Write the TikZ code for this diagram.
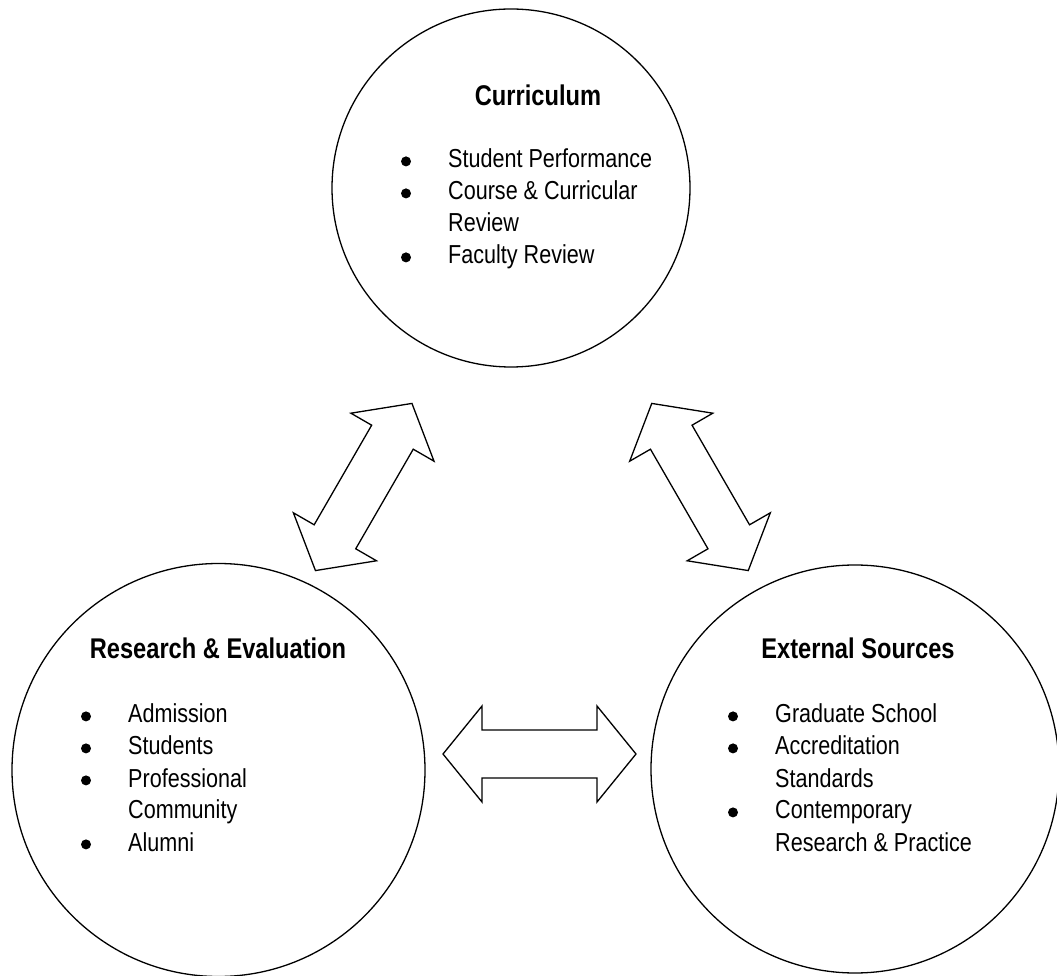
\documentclass[tikz,border=0pt]{standalone}
\usepackage{fontspec}
\setmainfont{Liberation Sans}[FakeStretch=0.83]
\begin{document}
\begin{tikzpicture}[x=1pt,y=1pt,
  ring/.style={circle, draw, line width=1.3pt, inner sep=0pt},
  heading/.style={anchor=base, inner sep=0pt, font=\fontsize{28.5}{34}\selectfont\bfseries},
  items/.style={anchor=base west, inner sep=0pt, font=\fontsize{26}{32}\selectfont},
  listdot/.style={circle, fill, inner sep=0pt, minimum size=10pt},
  blockarrow/.pic={
    \draw[line width=1.3pt, line join=miter]
      (-96.5,0) -- (-57.5,48) -- (-57.5,24) -- (57.5,24) -- (57.5,48) -- (96.5,0)
      -- (57.5,-48) -- (57.5,-24) -- (-57.5,-24) -- (-57.5,-48) -- cycle;
  }]
\useasboundingbox (0,0) rectangle (1057,975);

% the three circles
\node[ring, minimum size=358pt] (curr) at (511,787) {};
\node[ring, minimum size=413pt] (rese) at (218.5,205) {};
\node[ring, minimum size=408pt] (extr) at (855,206) {};

% double-headed block arrows between the circles
\pic[rotate=60] at (363.7,488) {blockarrow};
\pic[rotate=120] at (700,488) {blockarrow};
\pic at (539.5,221) {blockarrow};

% headings
\node[heading] (currhead) at (538,869) {Curriculum};
\node[heading] (resehead) at (218,316) {Research \& Evaluation};
\node[heading] (extrhead) at (858,316) {External Sources};

% list texts (lines 32pt apart, text 42pt right of the bullet centres)
\node[items] (currlist) at (448,807) {%
  \begin{tabular}[t]{@{}l@{}}
  Student Performance\\
  Course \& Curricular\\
  Review\\
  Faculty Review
  \end{tabular}};
\node[items] (reselist) at (128,252) {%
  \begin{tabular}[t]{@{}l@{}}
  Admission\\
  Students\\
  Professional\\
  Community\\
  Alumni
  \end{tabular}};
\node[items] (extrlist) at (775,252) {%
  \begin{tabular}[t]{@{}l@{}}
  Graduate School\\
  Accreditation\\
  Standards\\
  Contemporary\\
  Research \& Practice
  \end{tabular}};

% bullets
\node[listdot] (cdot1) at (406,813.6) {};
\node[listdot] (cdot2) at (406,781.6) {};
\node[listdot] (cdot3) at (406,717.6) {};
\node[listdot] (rdot1) at (86,258.6) {};
\node[listdot] (rdot2) at (86,226.6) {};
\node[listdot] (rdot3) at (86,194.6) {};
\node[listdot] (rdot4) at (86,130.6) {};
\node[listdot] (edot1) at (733,258.6) {};
\node[listdot] (edot2) at (733,226.6) {};
\node[listdot] (edot3) at (733,162.6) {};
\end{tikzpicture}
\end{document}
